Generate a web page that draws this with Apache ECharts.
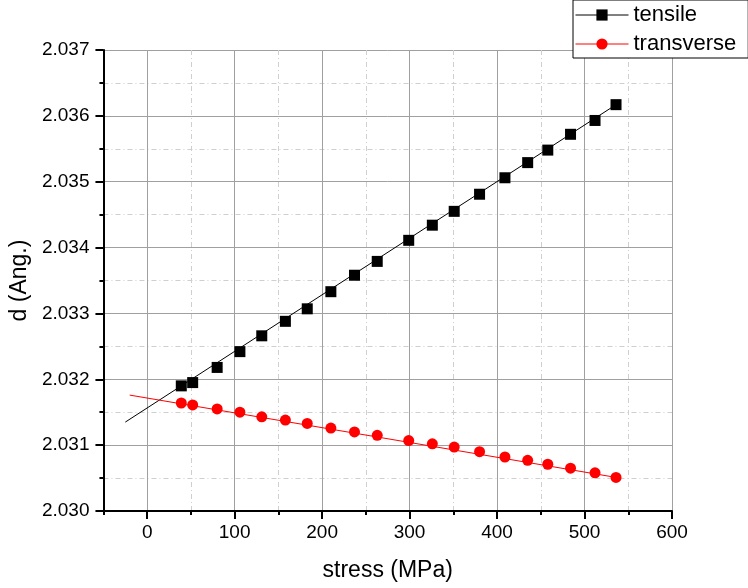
<!DOCTYPE html>
<html>
<head>
<meta charset="utf-8">
<script src="https://cdn.jsdelivr.net/npm/echarts@6/dist/echarts.min.js"></script>
<style>
  html, body { margin: 0; padding: 0; background: #fff; }
  #chart { width: 748px; height: 588px; }
</style>
</head>
<body>
<div id="chart"></div>
<script>
// Applied stress (MPa) at each measurement step
const stress = [39, 52, 80, 106, 131, 158, 183, 210, 237, 263, 299, 326, 351, 380, 409, 435, 458, 484, 512, 536];
// Lattice spacing d (Angstrom), tensile direction
const tensile = [2.03190, 2.03195, 2.03218, 2.03242, 2.03266, 2.03288, 2.03307, 2.03333, 2.03358, 2.03379,
                 2.03411, 2.03434, 2.03455, 2.03481, 2.03506, 2.03529, 2.03548, 2.03572, 2.03593, 2.03617];
// Lattice spacing d (Angstrom), transverse direction
const transverse = [2.03164, 2.03161, 2.03155, 2.03150, 2.03143, 2.03138, 2.03133, 2.03126, 2.03120, 2.03115,
                    2.03107, 2.03102, 2.03097, 2.03090, 2.03082, 2.03077, 2.03071, 2.03065, 2.03058, 2.03051];

// Linear fit end points
const tensileFitX = [-25, 536];
const tensileFitY = [2.03135, 2.03617];
const transverseFitX = [-20, 536];
const transverseFitY = [2.03176, 2.03051];

// Axis ticks
const xMajorTicks = [0, 100, 200, 300, 400, 500, 600];
const xMinorTicks = [-50, 50, 150, 250, 350, 450, 550];
const seriesNames = ['tensile', 'transverse'];
const seriesColors = ['#000000', '#ff0000'];

const zip = (xs, ys) => xs.map((x, i) => [x, ys[i]]);

const FONT = "'Liberation Sans', Arial, sans-serif";
const MAJOR_GRID = '#a0a0a0';
const MINOR_GRID = '#cfcfcf';

const chart = echarts.init(document.getElementById('chart'), null, { renderer: 'canvas' });

chart.setOption({
  animation: false,
  backgroundColor: '#fff',
  textStyle: { fontFamily: FONT },
  grid: { left: 101, right: 76, top: 50, bottom: 77, containLabel: false },
  legend: {
    // the measured points are drawn without a connecting line (the fit line runs through them),
    // but the legend keys still show line + marker
    data: seriesNames.map((name, i) => ({
      name: name,
      lineStyle: { color: seriesColors[i], width: 1, opacity: 1 }
    })),
    orient: 'vertical',
    left: 573,
    top: 0,
    padding: [3, 12, 2, 2],
    itemGap: 5,
    itemWidth: 53,
    itemHeight: 14,
    borderColor: '#000',
    borderWidth: 1,
    borderRadius: 0,
    backgroundColor: '#fff',
    textStyle: { fontSize: 22, color: '#000', fontFamily: FONT, lineHeight: 24 }
  },
  xAxis: [
    {
      type: 'value',
      min: -50,
      max: 600,
      position: 'bottom',
      name: 'stress (MPa)',
      nameLocation: 'middle',
      nameGap: 48,
      nameTextStyle: { fontSize: 23, color: '#000', fontFamily: FONT },
      axisLine: { show: true, onZero: false, lineStyle: { color: '#000', width: 2 } },
      axisTick: { show: true, length: 8, customValues: xMajorTicks, lineStyle: { color: '#000', width: 2 } },
      axisLabel: { customValues: xMajorTicks, margin: 12, fontSize: 19, color: '#000', fontFamily: FONT },
      splitLine: { show: true, lineStyle: { color: MAJOR_GRID, width: 1 } }
    },
    {
      type: 'value',
      min: -50,
      max: 600,
      position: 'bottom',
      axisLine: { show: false, onZero: false },
      axisTick: { show: true, length: 4, customValues: xMinorTicks, lineStyle: { color: '#000', width: 2 } },
      axisLabel: { show: false, customValues: xMinorTicks },
      splitLine: { show: true, lineStyle: { color: MINOR_GRID, width: 1, type: [5, 3, 1, 3] } }
    }
  ],
  yAxis: {
    type: 'value',
    min: 2.030,
    max: 2.037,
    interval: 0.001,
    name: 'd (Ang.)',
    nameLocation: 'middle',
    nameGap: 59,
    nameRotate: 90,
    nameTextStyle: { fontSize: 23, color: '#000', fontFamily: FONT },
    axisLine: { show: true, onZero: false, lineStyle: { color: '#000', width: 2 } },
    axisTick: { show: true, length: 8, lineStyle: { color: '#000', width: 2 } },
    minorTick: { show: true, splitNumber: 2, length: 4, lineStyle: { color: '#000', width: 2 } },
    axisLabel: {
      margin: 14, fontSize: 19, color: '#000', fontFamily: FONT,
      formatter: v => v.toFixed(3)
    },
    splitLine: { show: true, lineStyle: { color: MAJOR_GRID, width: 1 } },
    minorSplitLine: { show: true, lineStyle: { color: MINOR_GRID, width: 1, type: [5, 3, 1, 3] } }
  },
  series: [
    {
      name: 'tensile fit',
      type: 'line',
      xAxisIndex: 0,
      data: zip(tensileFitX, tensileFitY),
      showSymbol: false,
      symbol: 'none',
      silent: true,
      lineStyle: { color: seriesColors[0], width: 1 },
      z: 2
    },
    {
      name: 'transverse fit',
      type: 'line',
      xAxisIndex: 0,
      data: zip(transverseFitX, transverseFitY),
      showSymbol: false,
      symbol: 'none',
      silent: true,
      lineStyle: { color: seriesColors[1], width: 1 },
      z: 2
    },
    {
      name: 'tensile',
      type: 'line',
      xAxisIndex: 0,
      data: zip(stress, tensile),
      symbol: 'rect',
      symbolSize: 11,
      itemStyle: { color: seriesColors[0] },
      lineStyle: { color: seriesColors[0], width: 1, opacity: 0 },
      z: 3
    },
    {
      name: 'transverse',
      type: 'line',
      xAxisIndex: 0,
      data: zip(stress, transverse),
      symbol: 'circle',
      symbolSize: 11,
      itemStyle: { color: seriesColors[1] },
      lineStyle: { color: seriesColors[1], width: 1, opacity: 0 },
      z: 4
    }
  ]
});
</script>
</body>
</html>
